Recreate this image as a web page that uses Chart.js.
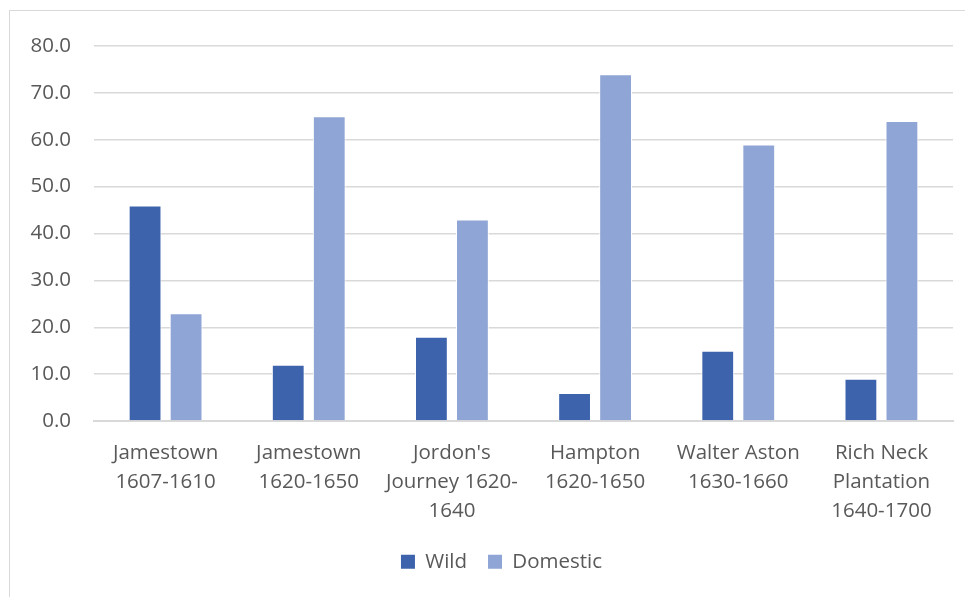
<!DOCTYPE html>
<html><head><meta charset="utf-8">
<script src="https://cdn.jsdelivr.net/npm/chart.js@4"></script>
<style>
html,body{margin:0;padding:0;background:#fff;}
#wrap{position:relative;width:965px;height:597px;}
#frame{position:absolute;left:9px;top:10px;right:-5px;bottom:-5px;border-left:1px solid #d9d9d9;border-top:1px solid #d9d9d9;}
canvas{position:absolute;left:0;top:0;}
</style></head>
<body><div id="wrap"><div id="frame"></div><canvas id="c" width="965" height="597"></canvas></div>
<script>
const categories = [
  ["Jamestown","1607-1610"],
  ["Jamestown","1620-1650"],
  ["Jordon's","Journey 1620-","1640"],
  ["Hampton","1620-1650"],
  ["Walter Aston","1630-1660"],
  ["Rich Neck","Plantation","1640-1700"]
];
const wild = [46, 12, 18, 6, 15, 9];
const domestic = [23, 65, 43, 74, 59, 64];
const yTicks = [0,10,20,30,40,50,60,70,80];

const FONT = "'Open Sans', sans-serif";
const FS = 20.5;
const TXT = '#595959';
const shiftLegend = {
  id:'shiftLegend',
  afterLayout(chart){ if(chart.legend){ chart.legend.left += 50; chart.legend.width = chart.legend.right - chart.legend.left; } }
};
new Chart(document.getElementById('c'), {
  type: 'bar',
  data: {
    labels: categories,
    datasets: [
      {label:'Wild', data: wild, backgroundColor:'#3d63ad', borderColor:'#ffffff', borderWidth:{left:1,right:1,top:1,bottom:0}},
      {label:'Domestic', data: domestic, backgroundColor:'#8fa5d5', borderColor:'#ffffff', borderWidth:{left:1,right:1,top:1,bottom:0}}
    ]
  },
  plugins:[shiftLegend],
  options: {
    responsive:false, animation:false,
    layout:{padding:{left:0,right:12,top:46,bottom:15}},
    datasets:{bar:{categoryPercentage:0.573, barPercentage:0.8}},
    plugins:{
      legend:{position:'bottom',
        labels:{color:TXT,font:{family:FONT,size:FS},boxWidth:14,boxHeight:14,padding:21,
          generateLabels:(chart)=>chart.data.datasets.map((d,i)=>({text:d.label,fillStyle:d.backgroundColor,strokeStyle:d.backgroundColor,lineWidth:0,fontColor:TXT,datasetIndex:i,hidden:false}))}},
      tooltip:{enabled:false}
    },
    scales:{
      x:{
        grid:{display:false, drawTicks:false},
        border:{color:'#d9d9d9', width:2},
        ticks:{color:TXT,font:{family:FONT,size:FS,lineHeight:1.42},padding:17.5,maxRotation:0,autoSkip:false},
        afterFit:(s)=>{s.height=109.5;}
      },
      y:{
        min:0,max:80,
        afterBuildTicks:(s)=>{s.ticks=yTicks.map(v=>({value:v}));},
        grid:{color:'#d9d9d9', lineWidth:1.5, drawTicks:false},
        border:{display:false},
        ticks:{color:TXT,font:{family:FONT,size:FS},padding:23,callback:(v)=>Number(v).toFixed(1)},
        afterFit:(s)=>{s.width=94;}
      }
    }
  }
});
</script></body></html>
